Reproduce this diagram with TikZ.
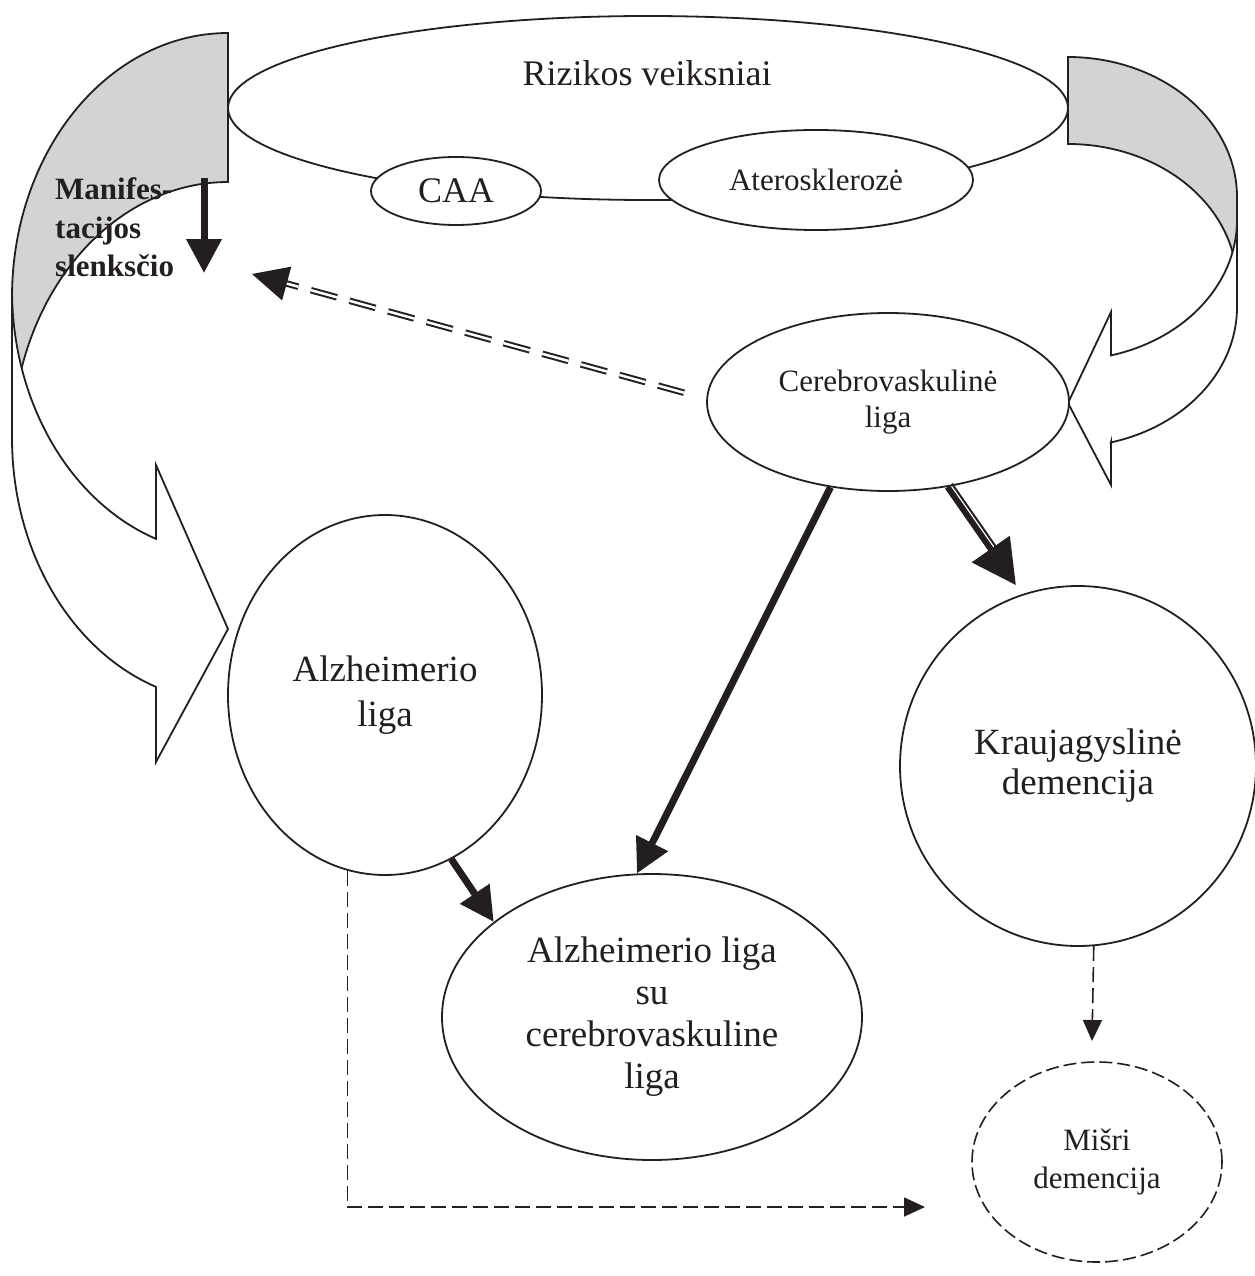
\documentclass[tikz,border=0pt]{standalone}
\usepackage{fontspec}
\setmainfont{Liberation Serif}
\usetikzlibrary{shapes.geometric,arrows.meta,calc}
\definecolor{ink}{RGB}{35,31,32}
\definecolor{shade}{RGB}{209,211,212}
\begin{document}
\begin{tikzpicture}[x=1pt,y=-1pt,
  oval/.style={ellipse, draw=ink, line width=1.8pt, fill=white, inner sep=0pt, align=center, text=ink},
  band/.style={draw=ink, line width=1.8pt, line join=miter},
  bigarr/.style={draw=ink, line width=7pt, -{Triangle[length=34pt,width=34pt]}},
  dasharr/.style={draw=ink, line width=1.6pt, dash pattern=on 15pt off 6pt, -{Triangle[length=21pt,width=19pt]}},
  dbl/.style={draw=ink, line width=2pt, double=white, double distance=2.5pt, dash pattern=on 27pt off 13pt},
  mtext/.style={anchor=base west, inner sep=0pt, text=ink, font=\bfseries\fontsize{31}{36}\selectfont}
]
\useasboundingbox (0,0) rectangle (1254,1276);
\fill[white] (0,0) rectangle (1254,1276);

% left curved arrow: back band (shaded) and front band with head
\filldraw[band, fill=shade] plot[domain=-90:-180, samples=80] ({228+216*cos(\x)},{297+264*sin(\x)}) -- (12,446) -- plot[domain=180:270, samples=80] ({228+216*cos(\x)},{446+264*sin(\x)}) -- cycle;
\filldraw[band, fill=white] plot[domain=180:109.5, samples=80] ({228+216*cos(\x)},{290+264*sin(\x)}) -- (156,465) -- (228,629) -- (156,762) -- (156,687) -- plot[domain=109.5:180, samples=80] ({228+216*cos(\x)},{438+264*sin(\x)}) -- cycle;

% right curved arrow
\filldraw[band, fill=shade] plot[domain=-90:0, samples=80] ({1068+169*cos(\x)},{197+140*sin(\x)}) -- (1237,284) -- plot[domain=0:-90, samples=80] ({1068+169*cos(\x)},{284+140*sin(\x)}) -- cycle;
\filldraw[band, fill=white] plot[domain=0:75.3, samples=80] ({1068+169*cos(\x)},{220+140*sin(\x)}) -- (1111,312) -- (1068,403) -- (1111,485) -- (1111,442) -- plot[domain=75.3:0, samples=80] ({1068+169*cos(\x)},{307+140*sin(\x)}) -- cycle;

% nodes
\node[oval, minimum width=840pt, minimum height=184pt] (rv) at (648,108) {};
\node[text=ink, inner sep=0pt, font=\fontsize{36}{42}\selectfont] (rvt) at (647,73) {Rizikos veiksniai};
\node[oval, minimum width=170pt, minimum height=68pt, font=\fontsize{36}{42}\selectfont] (caa) at (456,191) {CAA};
\node[oval, minimum width=314pt, minimum height=100pt, font=\fontsize{31}{36}\selectfont] (ath) at (816,180) {Aterosklerozė};
\node[oval, minimum width=362pt, minimum height=178pt, font=\fontsize{31}{36}\selectfont] (cv) at (888,402) {Cerebrovaskulinė\\liga};
\node[oval, minimum width=314pt, minimum height=360pt, font=\fontsize{37}{45}\selectfont] (al) at (385,695) {Alzheimerio\\liga};
\node[oval, minimum width=356pt, minimum height=360pt, font=\fontsize{37}{40}\selectfont] (kd) at (1078,766) {Kraujagyslinė\\demencija};
\node[oval, minimum width=420pt, minimum height=286pt, font=\fontsize{37}{42}\selectfont] (alc) at (652,1017) {Alzheimerio liga\\su\\cerebrovaskuline\\liga};
\node[oval, dash pattern=on 13pt off 5pt, line width=1.6pt, minimum width=250pt, minimum height=200pt, font=\fontsize{31}{38}\selectfont] (md) at (1097,1162) {Mišri\\demencija};

% threshold label
\node[mtext] (mt1) at (55,200) {Manifes-};
\node[mtext] (mt2) at (55,238) {tacijos};
\node[mtext] (mt3) at (55,276) {slenksčio};

% connectors
\coordinate (m1) at (204,178);
\coordinate (m2) at (204,273);
\draw[bigarr] (m1) -- (m2);

\draw[bigarr] (cv.-124) -- (alc.96);
\draw[bigarr] (al.-68.9) -- (alc.149.6);
\draw[draw=ink, line width=6pt, -{Triangle[length=44pt,width=45pt]}, shorten >=11pt] (cv.-55.7) -- (kd.108);
\draw[draw=ink, line width=2pt, shorten >=40pt, transform canvas={shift={(4.4pt,3.3pt)}}] (cv.-55.7) -- (kd.108);

\coordinate (mdtop) at (1092,1041);
\draw[dasharr] (kd.-85.6) -- (mdtop);
\coordinate (mdin) at (925,1207);
\draw[dasharr] (al.-102.3) |- (mdin);

\coordinate (thr) at (252,274);
\draw[dbl, shorten <=23pt, shorten >=30pt] (cv.179) -- (thr);
\coordinate (hb) at ($(thr)!36pt!(cv.179)$);
\fill[ink] (thr) -- ($(hb)!17.5pt!90:(thr)$) -- ($(hb)!17.5pt!-90:(thr)$) -- cycle;
\end{tikzpicture}
\end{document}
